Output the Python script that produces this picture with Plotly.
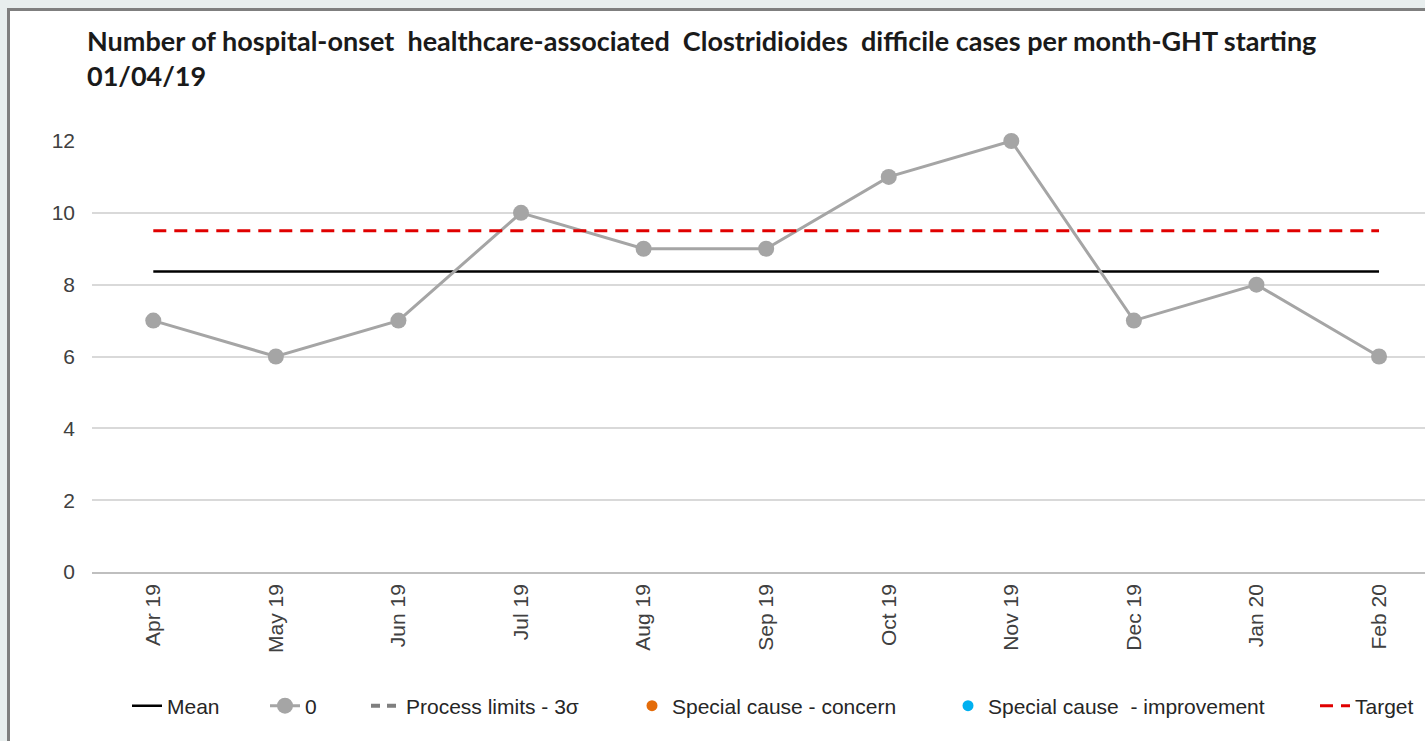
import plotly.graph_objects as go

months = ["Apr 19", "May 19", "Jun 19", "Jul 19", "Aug 19", "Sep 19",
          "Oct 19", "Nov 19", "Dec 19", "Jan 20", "Feb 20"]
cases = [7, 6, 7, 10, 9, 9, 11, 12, 7, 8, 6]
mean_value = sum(cases) / len(cases)
target_value = 9.5
y_ticks = [0, 2, 4, 6, 8, 10, 12]

title_text = ("Number of hospital-onset  healthcare-associated  Clostridioides  "
              "difficile cases per month-GHT starting<br>01/04/19")

idx = list(range(len(months)))

fig = go.Figure()
fig.add_trace(go.Scatter(x=idx, y=[mean_value] * len(months), mode="lines",
                         name="Mean", line=dict(color="#000000", width=2.5),
                         legend="legend"))
fig.add_trace(go.Scatter(x=idx, y=cases, mode="lines+markers", name="0",
                         line=dict(color="#a5a5a5", width=3),
                         marker=dict(color="#a5a5a5", size=16),
                         cliponaxis=False, legend="legend2"))
fig.add_trace(go.Scatter(x=[None], y=[None], mode="lines",
                         name="Process limits - 3σ",
                         line=dict(color="#7f7f7f", width=4, dash="9px,7px"),
                         legend="legend3"))
fig.add_trace(go.Scatter(x=[None], y=[None], mode="markers",
                         name="Special cause - concern",
                         marker=dict(color="#e46c0a", size=11), legend="legend4"))
fig.add_trace(go.Scatter(x=[None], y=[None], mode="markers",
                         name="Special cause  - improvement",
                         marker=dict(color="#00b0f0", size=11), legend="legend5"))
fig.add_trace(go.Scatter(x=idx, y=[target_value] * len(months), mode="lines",
                         name="Target",
                         line=dict(color="#e00000", width=3, dash="13px,8px"),
                         legend="legend6"))

W, H = 1425, 741
ml, mr, mt, mb = 92, 0, 141, 169
pw, ph = W - ml - mr, H - mt - mb

def px_x(p):
    return (p - ml) / pw

def px_y(p):
    return (H - mb - p) / ph

fig.add_shape(type="rect", xref="paper", yref="paper",
              x0=px_x(8.5), x1=px_x(W + 20), y0=px_y(H + 20), y1=px_y(9.5),
              line=dict(color="#7f7f7f", width=3), fillcolor="white", layer="below")

legend_text_starts = [167, 305, 406, 672, 988, 1355]

def legend_at(text_px):
    return dict(orientation="h", x=px_x(text_px - 40), xanchor="left", xref="paper",
                y=px_y(706), yanchor="middle", font=dict(size=21, color="#262626"),
                bgcolor="rgba(0,0,0,0)")

legends = {}
for i, tx in enumerate(legend_text_starts):
    key = "legend" if i == 0 else f"legend{i + 1}"
    legends[key] = legend_at(tx)

fig.update_layout(
    width=W, height=H,
    margin=dict(l=ml, r=mr, t=mt, b=mb, pad=0, autoexpand=False),
    paper_bgcolor="#e8eeee",
    plot_bgcolor="white",
    title=dict(text=title_text, xref="container", yref="container",
               x=87 / W, xanchor="left", y=1 - 51 / H, yanchor="top",
               font=dict(family="Lato", size=27, color="#1a1a1a", weight="bold")),
    font=dict(family="Liberation Sans, Arial", size=21, color="#404040"),
    showlegend=True,
    xaxis=dict(range=[-0.5, 10.375], tickmode="array", tickvals=idx, ticktext=months,
               tickangle=-90, showgrid=False, showline=True, linecolor="#bfbfbf",
               linewidth=1.5, ticks="", ticklabelstandoff=2, zeroline=False,
               automargin=False, tickfont=dict(size=21, color="#404040")),
    yaxis=dict(range=[0, 12], tickvals=y_ticks, showgrid=True, gridcolor="#d9d9d9",
               gridwidth=1.5, zeroline=False, ticks="", ticklabelstandoff=16,
               automargin=False, tickfont=dict(size=21, color="#404040")),
    **legends,
)

fig.write_html("out.html")
